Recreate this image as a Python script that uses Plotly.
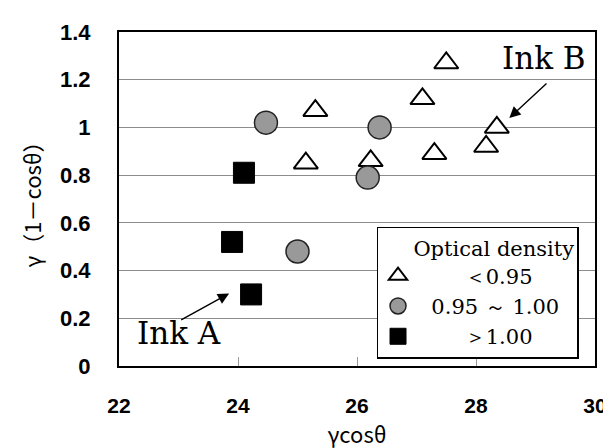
import plotly.graph_objects as go

# Data
tri_x = [27.5, 27.1, 25.3, 28.35, 28.17, 27.3, 25.14, 26.23]
tri_y = [1.27, 1.12, 1.07, 1.0, 0.92, 0.89, 0.85, 0.86]
cir_x = [24.47, 26.38, 26.18, 25.0]
cir_y = [1.02, 1.0, 0.79, 0.48]
sq_x = [24.1, 23.9, 24.22]
sq_y = [0.81, 0.52, 0.30]

names = ["＜0.95", "0.95 ～ 1.00", "＞1.00"]
legend_title = "Optical density"
x_ticks = [22, 24, 26, 28, 30]
y_ticks = [0, 0.2, 0.4, 0.6, 0.8, 1.0, 1.2, 1.4]
y_ticktext = ["0", "0.2", "0.4", "0.6", "0.8", "1", "1.2", "1.4"]

NB = "\u00a0"
fig = go.Figure()
fig.add_trace(go.Scatter(
    x=tri_x, y=tri_y, mode="markers", name=NB * 7 + names[0],
    marker=dict(symbol="triangle-up", size=21, color="white",
                line=dict(color="black", width=2))))
fig.add_trace(go.Scatter(
    x=cir_x, y=cir_y, mode="markers", name=NB * 2 + names[1],
    marker=dict(symbol="circle", size=23, color="#999999",
                line=dict(color="#222222", width=1.5))))
fig.add_trace(go.Scatter(
    x=sq_x, y=sq_y, mode="markers", name=NB * 7 + names[2],
    marker=dict(symbol="square", size=21, color="black",
                line=dict(color="black", width=1))))

# Annotations: text labels
fig.add_annotation(x=23.0, y=0.137, text="Ink A", showarrow=False,
                   font=dict(family="DejaVu Serif", size=31, color="black"))
fig.add_annotation(x=29.14, y=1.29, text="Ink B", showarrow=False,
                   font=dict(family="DejaVu Serif", size=31, color="black"))
# Arrows
fig.add_annotation(x=23.85, y=0.304, ax=23.02, ay=0.19, axref="x", ayref="y",
                   text="", showarrow=True, arrowhead=2, arrowsize=1.6,
                   arrowwidth=1.4, arrowcolor="black")
fig.add_annotation(x=28.56, y=1.04, ax=29.21, ay=1.19, axref="x", ayref="y",
                   text="", showarrow=True, arrowhead=2, arrowsize=1.6,
                   arrowwidth=1.4, arrowcolor="black")

fig.update_layout(
    width=611, height=448,
    margin=dict(l=111, r=16, t=22, b=90),
    paper_bgcolor="white", plot_bgcolor="white",
    showlegend=True,
    legend=dict(
        x=0.541, y=0.417, xanchor="left", yanchor="top",
        bgcolor="white", bordercolor="black", borderwidth=1.5,
        font=dict(family="DejaVu Serif", size=21, color="black"),
        title=dict(text=NB * 5 + legend_title,
                   font=dict(family="DejaVu Serif", size=21, color="black")),
        tracegroupgap=0,
    ),
    xaxis=dict(
        range=[22, 30], tickvals=x_ticks, ticktext=[str(v) for v in x_ticks],
        showgrid=False, zeroline=False,
        showline=True, linecolor="black", linewidth=2, mirror=True,
        ticks="inside", ticklen=9, tickcolor="#999999", tickwidth=1,
        ticklabelstandoff=20,
        tickfont=dict(family="Liberation Sans", size=21, color="black", weight="bold"),
        title=dict(text="γcosθ", standoff=2,
                   font=dict(family="Noto Sans CJK JP", size=22, color="black")),
    ),
    yaxis=dict(
        range=[0, 1.4], tickvals=y_ticks, ticktext=y_ticktext,
        showgrid=True, gridcolor="#8c8c8c", gridwidth=1, zeroline=False,
        showline=True, linecolor="black", linewidth=2, mirror=True,
        ticks="", ticklabelstandoff=22,
        tickfont=dict(family="Liberation Sans", size=22, color="black", weight="bold"),
        title=dict(text="γ（1－cosθ）", standoff=12,
                   font=dict(family="Noto Sans CJK JP", size=22, color="black")),
    ),
)

fig.write_html("out.html")
